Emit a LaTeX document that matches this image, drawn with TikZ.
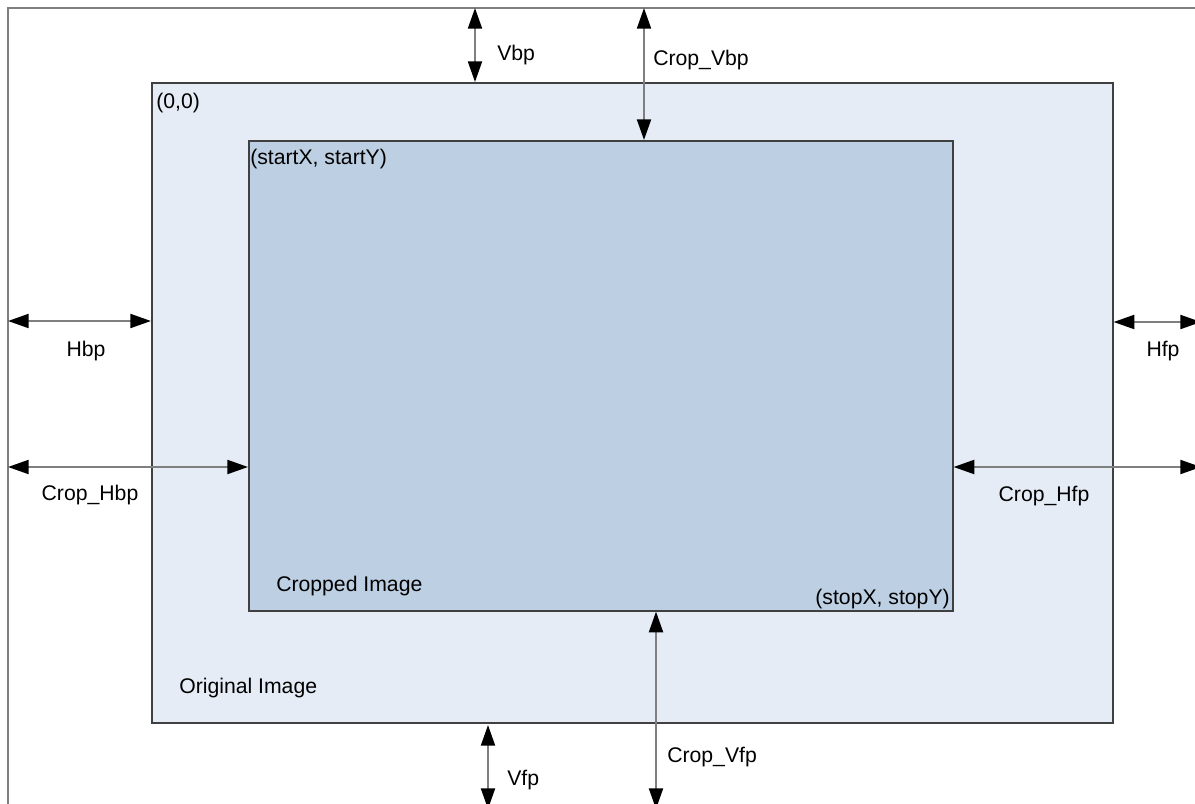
\documentclass[tikz,border=0pt]{standalone}
\usepackage{fontspec}
\setmainfont{Liberation Sans}
\usetikzlibrary{arrows.meta}
\definecolor{origfill}{HTML}{E6ECF6}
\definecolor{cropfill}{HTML}{BDCFE2}
\definecolor{boxline}{HTML}{404040}
\definecolor{arrline}{HTML}{7F7F7F}
\begin{document}
\begin{tikzpicture}[x=0.75pt,y=-0.75pt,
  lbl/.style={inner sep=0pt,font=\fontsize{15.9pt}{18pt}\selectfont},
  dim/.style={draw=arrline,line width=1.5pt,
    {Triangle[length=15.5pt,width=10.5pt,black]}-{Triangle[length=15.5pt,width=10.5pt,black]}},
  frame/.style={draw=arrline,line width=1.6pt},
  imgbox/.style={draw=boxline,line width=1.2pt}]
\useasboundingbox (0,0) rectangle (1195,803);
% outer frame
\draw[frame] (1200,8) -- (8,8) -- (8,808);
% original image
\node[imgbox,fill=origfill,minimum width=961*0.75pt,minimum height=640*0.75pt,anchor=north west,inner sep=0pt] (orig) at (151,82) {};
% cropped image
\node[imgbox,fill=cropfill,minimum width=704*0.75pt,minimum height=470*0.75pt,anchor=north west,inner sep=0pt] (crop) at (248,140) {};
% free-end coordinates
\coordinate (vbpT) at (475,8);
\coordinate (vbpB) at (orig.north -| vbpT);
\coordinate (cvbpT) at (644,8);
\coordinate (cvbpB) at (crop.north -| cvbpT);
\coordinate (hbpL) at (8,321);
\coordinate (hbpR) at (orig.west |- hbpL);
\coordinate (chbpL) at (8,467);
\coordinate (chbpR) at (crop.west |- chbpL);
\coordinate (hfpR) at (1201,322);
\coordinate (hfpL) at (orig.east |- hfpR);
\coordinate (chfpR) at (1201,467);
\coordinate (chfpL) at (crop.east |- chfpR);
\coordinate (vfpT) at (488,725);
\coordinate (vfpB) at (488,809);
\coordinate (cvfpB) at (656,809);
\coordinate (cvfpT) at (crop.south -| cvfpB);
% dimension arrows
\draw[dim] (vbpT) -- (vbpB);
\draw[dim] (cvbpT) -- (cvbpB);
\draw[dim] (hbpL) -- (hbpR);
\draw[dim] (chbpL) -- (chbpR);
\draw[dim] (hfpL) -- (hfpR);
\draw[dim] (chfpL) -- (chfpR);
\draw[dim] (vfpT) -- (vfpB);
\draw[dim] (cvfpT) -- (cvfpB);
% labels
\node[lbl,anchor=west] (tvbp) at (497,55) {Vbp};
\node[lbl,anchor=west] (tcvbp) at (653,60) {Crop\_Vbp};
\node[lbl] (thbp) at (86,351) {Hbp};
\node[lbl] (tchbp) at (90,495) {Crop\_Hbp};
\node[lbl] (thfp) at (1163,351) {Hfp};
\node[lbl] (tchfp) at (1044,496) {Crop\_Hfp};
\node[lbl,anchor=west] (tvfp) at (507,780) {Vfp};
\node[lbl,anchor=west] (tcvfp) at (667,757) {Crop\_Vfp};
\node[lbl,anchor=west] (t00) at (156,103) {(0,0)};
\node[lbl,anchor=west] (tstart) at (250,159) {(startX, startY)};
\node[lbl,anchor=west] (tcrop) at (276,586) {Cropped Image};
\node[lbl,anchor=east] (tstop) at (950,599) {(stopX, stopY)};
\node[lbl,anchor=west] (torig) at (179,688) {Original Image};
\end{tikzpicture}
\end{document}
